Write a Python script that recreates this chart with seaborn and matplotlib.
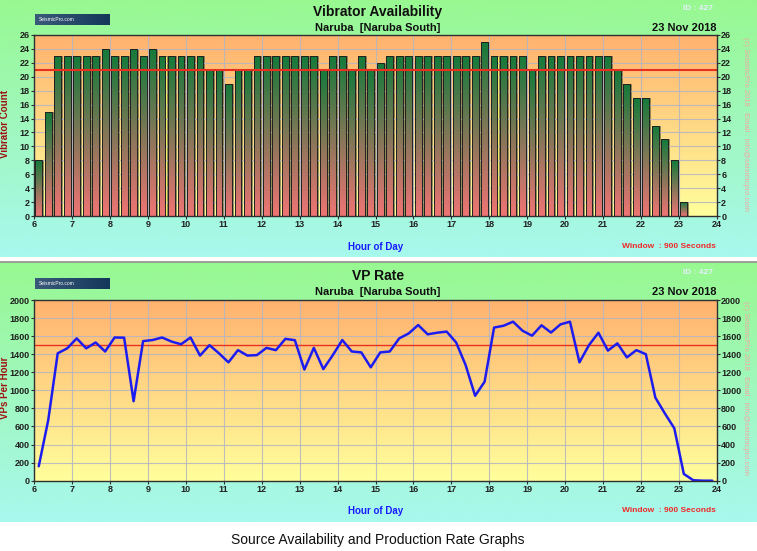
import numpy as np
import pandas as pd
import seaborn as sns
import matplotlib.pyplot as plt
from matplotlib.colors import LinearSegmentedColormap

# Data (15 minute windows starting at 06:00)
slot_start = np.arange(6.0, 23.01, 0.25)
vib_count = [8, 15, 23, 23, 23, 23, 23, 24, 23, 23, 24, 23, 24, 23, 23, 23, 23, 23,
             21, 21, 19, 21, 21, 23, 23, 23, 23, 23, 23, 23, 21, 23, 23, 21, 23, 21,
             22, 23, 23, 23, 23, 23, 23, 23, 23, 23, 23, 25, 23, 23, 23, 23, 21, 23,
             23, 23, 23, 23, 23, 23, 23, 21, 19, 17, 17, 13, 11, 8, 2]
vib_target = 21

rate_start = np.arange(6.0, 23.76, 0.25)
vp_rate = [160, 670, 1410, 1465, 1575, 1465, 1530, 1430, 1585, 1583, 880, 1545,
           1557, 1585, 1540, 1510, 1585, 1385, 1500, 1410, 1310, 1445, 1385, 1390,
           1470, 1445, 1570, 1555, 1230, 1470, 1235, 1390, 1557, 1430, 1420, 1255,
           1420, 1430, 1575, 1630, 1723, 1620, 1638, 1650, 1530, 1280, 940, 1095,
           1695, 1715, 1760, 1660, 1605, 1720, 1640, 1730, 1760, 1310, 1500, 1638,
           1440, 1520, 1365, 1445, 1400, 920, 745, 580, 75, 5, 0, 0]
vp_target = 1500

hour_ticks = list(range(6, 25))
count_ticks = list(range(0, 27, 2))
rate_ticks = list(range(0, 2001, 200))

site = "Naruba  [Naruba South]"
day = "23 Nov 2018"
window_txt = "Window  : 900 Seconds"

df_vib = pd.DataFrame({"hour": slot_start + 0.125, "count": vib_count})
df_vp = pd.DataFrame({"hour": rate_start + 0.125, "rate": vp_rate})

sns.set_style("white")
plt.rcParams["font.family"] = ["Liberation Sans", "DejaVu Sans"]

W, H = 757, 551
fig = plt.figure(figsize=(W / 100, H / 100), dpi=100)
fig.patch.set_facecolor("white")


def box(x0, y0, x1, y1):
    # pixel box -> figure fraction rect
    return [x0 / W, 1 - y1 / H, (x1 - x0) / W, (y1 - y0) / H]


def ftext(x, y, s, **kw):
    fig.text(x / W, 1 - y / H, s, **kw)


vgrad = np.linspace(0, 1, 256).reshape(-1, 1)
panel_cmap = LinearSegmentedColormap.from_list("panel", ["#a8f8ee", "#98f890"])
plot_cmap = LinearSegmentedColormap.from_list("plot", ["#ffff9c", "#ffb26e"])
bar_cmap = LinearSegmentedColormap.from_list("bar", ["#f07474", "#137a3a"])

# panel backgrounds
for y0, y1 in [(0, 257), (262, 522)]:
    bg = fig.add_axes(box(0, y0, W, y1), zorder=-10)
    bg.imshow(vgrad, cmap=panel_cmap, aspect="auto", origin="lower", extent=[0, 1, 0, 1])
    bg.set_axis_off()
fig.add_artist(plt.Line2D([0, 1], [1 - 261.5 / H] * 2, color="#909090", lw=1.2))

# logos
for y0 in [14, 278]:
    lg = fig.add_axes(box(35, y0, 110, y0 + 11))
    lg.imshow(np.linspace(0, 1, 64).reshape(1, -1), aspect="auto",
              cmap=LinearSegmentedColormap.from_list("lg", ["#3a5a7a", "#14385a"]))
    lg.set_axis_off()
    lg.text(0.05, 0.5, "SeismicPro.com", color="white", fontsize=3.5,
            va="center", transform=lg.transAxes)


def style_axes(ax, ymax, yticks, grid_z):
    ax.imshow(vgrad, cmap=plot_cmap, aspect="auto", origin="lower",
              extent=[6, 24, 0, ymax], zorder=0)
    ax.set_xlim(6, 24)
    ax.set_ylim(0, ymax)
    ax.set_xticks(hour_ticks)
    ax.set_yticks(yticks)
    ax.set_axisbelow(False)
    ax.grid(True, color="#b4b4c4", lw=0.8, zorder=grid_z, alpha=0.85)
    for s in ax.spines.values():
        s.set_color("#303030")
        s.set_linewidth(1.0)
        s.set_zorder(6)
    ax.tick_params(axis="both", which="both", length=2.5, width=0.8, color="#303030",
                   labelsize=6.5, pad=0.5, left=True, right=True, bottom=True,
                   labelright=True)
    for lab in ax.get_xticklabels() + ax.get_yticklabels():
        lab.set_fontweight("bold")
        lab.set_color("#202020")
    ax.set_xlabel("")
    ax.set_ylabel("")


# ---- top: vibrator availability ----
ax1 = fig.add_axes(box(34, 35, 717, 216))
sns.barplot(data=df_vib, x="hour", y="count", native_scale=True, width=0.72,
            color="#137a3a", edgecolor="#202020", linewidth=0.7, errorbar=None,
            ax=ax1, zorder=3)
bars = list(ax1.patches)
ax1.bar(df_vib["hour"] + 0.103, df_vib["count"], width=0.028, color="#f4f064",
        edgecolor="#404040", linewidth=0.4, zorder=2.5)
for p in bars:
    x0, w, h = p.get_x(), p.get_width(), p.get_height()
    im = ax1.imshow(vgrad, cmap=bar_cmap, origin="lower", aspect="auto",
                    extent=[x0, x0 + w, 0, h], zorder=3)
    im.set_clip_path(p)
    p.set_facecolor("none")
    p.set_zorder(4)
ax1.axhline(vib_target, color="#e83020", lw=1.5, zorder=5)
style_axes(ax1, 26, count_ticks, 4.5)
for gl in ax1.get_xgridlines() + ax1.get_ygridlines():
    gl.set_zorder(4.5)

# ---- bottom: VP rate ----
ax2 = fig.add_axes(box(34, 300, 717, 480.7))
sns.lineplot(data=df_vp, x="hour", y="rate", color="#1c1cf0", lw=1.8, ax=ax2, zorder=4)
ax2.axhline(vp_target, color="#e83020", lw=1.0, zorder=3)
style_axes(ax2, 2000, rate_ticks, 1)

# ---- texts ----
for off, title, ylab in [(0, "Vibrator Availability", "Vibrator Count"),
                         (264, "VP Rate", "VPs Per Hour")]:
    ftext(378, 12 + off, title, fontsize=10, fontweight="bold", ha="center", va="center",
          color="#101010")
    ftext(378, 28 + off, site, fontsize=8, fontweight="bold", ha="center", va="center",
          color="#101010")
    ftext(716, 28 + off, day, fontsize=8, fontweight="bold", ha="right", va="center",
          color="#101010")
    ftext(698, 9 + off, "ID : 427", fontsize=6, fontweight="bold", ha="center",
          va="center", color="#e8eeff")
    ftext(5.5, 124 + off, ylab, fontsize=7, fontweight="bold", rotation=90, ha="center",
          va="center", color="#a01010")
    ftext(376, 247 + off, "Hour of Day", fontsize=7, fontweight="bold", ha="center",
          va="center", color="#1a1aff")
    ftext(716, 247 + off, window_txt, fontsize=6, fontweight="bold", ha="right",
          va="center", color="#f02828")
    ftext(745, 124 + off, "(c) SeismicPro 2018   Email : info@seismicpro.com",
          fontsize=5.5, rotation=270, ha="center", va="center", color="#f4a4a4")

ftext(378, 540, "Source Availability and Production Rate Graphs", fontsize=10,
      ha="center", va="center", color="#101010")

fig.savefig("out.png", dpi=100)
